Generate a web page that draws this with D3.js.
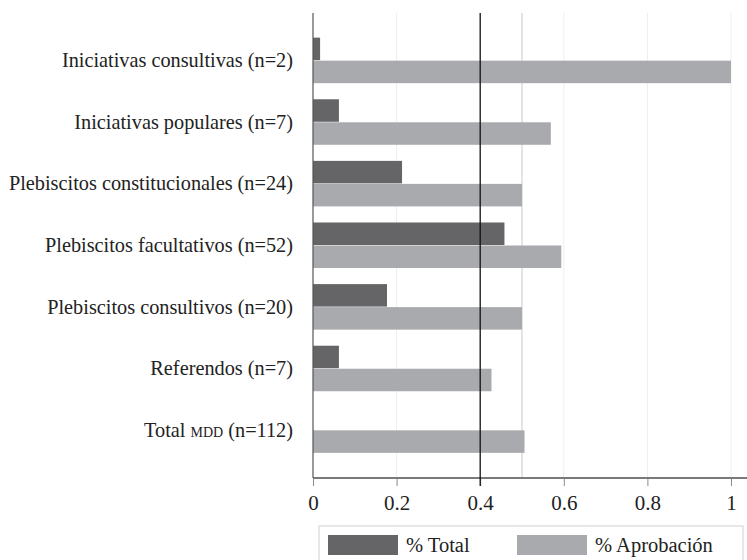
<!DOCTYPE html>
<html>
<head>
<meta charset="utf-8">
<script src="https://cdn.jsdelivr.net/npm/d3@7"></script>
<style>
  body { margin: 0; background: #fff; }
  text { font-family: "Liberation Serif", "DejaVu Serif", serif; fill: #222; }
</style>
</head>
<body>
<div id="chart"></div>
<script>
// categories, top to bottom
var categories = [
  "Iniciativas consultivas (n=2)",
  "Iniciativas populares (n=7)",
  "Plebiscitos constitucionales (n=24)",
  "Plebiscitos facultativos (n=52)",
  "Plebiscitos consultivos (n=20)",
  "Referendos (n=7)",
  "Total mdd (n=112)"
];
var pctTotal = [0.017, 0.062, 0.213, 0.458, 0.177, 0.062, null];
var pctAprob = [1.0, 0.569, 0.5, 0.594, 0.5, 0.427, 0.506];
var seriesNames = ["% Total", "% Aprobación"];
var xTicks = [0, 0.2, 0.4, 0.6, 0.8, 1];

var W = 747, H = 560;
var margin = {top: 13, right: 16, bottom: 82, left: 313};
var width = 731 - margin.left;
var height = H - margin.top - margin.bottom;

var svg = d3.select("#chart").append("svg")
  .attr("width", W)
  .attr("height", H);

var g = svg.append("g")
  .attr("transform", "translate(" + margin.left + "," + margin.top + ")");

var xScale = d3.scaleLinear()
  .domain([0, 1])
  .range([0, width]);

var yScale = d3.scaleBand()
  .domain(categories)
  .range([0, height])
  .paddingInner(0.253)
  .paddingOuter(0.4);

var ySub = d3.scaleBand()
  .domain(seriesNames)
  .range([0, yScale.bandwidth()]);

var color = d3.scaleOrdinal()
  .domain(seriesNames)
  .range(["#656567", "#a9aaae"]);

// faint gridlines
g.selectAll(".grid")
  .data(xTicks.filter(function(d) { return d != 0 && d != 0.4; }))
  .enter().append("line")
  .attr("class", "grid")
  .attr("x1", function(d) { return xScale(d); })
  .attr("x2", function(d) { return xScale(d); })
  .attr("y1", 0)
  .attr("y2", height)
  .attr("stroke", "#eeeeee")
  .attr("stroke-width", 1);

// 0.5 reference
g.append("line")
  .attr("x1", xScale(0.5)).attr("x2", xScale(0.5))
  .attr("y1", 0).attr("y2", height)
  .attr("stroke", "#d2d2d2")
  .attr("stroke-width", 1.2);

// bars
var rows = categories.map(function(c, i) {
  return {cat: c, vals: [{s: seriesNames[0], v: pctTotal[i]}, {s: seriesNames[1], v: pctAprob[i]}]};
});

var group = g.selectAll(".row")
  .data(rows)
  .enter().append("g")
  .attr("class", "row")
  .attr("transform", function(d) { return "translate(0," + yScale(d.cat) + ")"; });

group.selectAll("rect")
  .data(function(d) { return d.vals.filter(function(e) { return e.v != null; }); })
  .enter().append("rect")
  .attr("x", 0)
  .attr("y", function(d) { return ySub(d.s); })
  .attr("width", function(d) { return xScale(d.v); })
  .attr("height", ySub.bandwidth() - 0.5)
  .attr("fill", function(d) { return color(d.s); });

// x axis
var xAxis = g.append("g")
  .attr("transform", "translate(0," + height + ")")
  .call(d3.axisBottom(xScale).tickValues(xTicks).tickFormat(d3.format("")).tickSize(8).tickSizeOuter(0));
xAxis.select(".domain").remove();
xAxis.selectAll(".tick line").attr("stroke", "#8a8a8a");
xAxis.selectAll(".tick text")
  .attr("dy", "0.9em")
  .attr("y", 13)
  .style("font-size", "21px")
  .style("font-family", "'Liberation Serif', serif")
  .attr("fill", "#222");
xAxis.append("line")
  .attr("x1", 0).attr("x2", W - margin.left)
  .attr("y1", 0).attr("y2", 0)
  .attr("stroke", "#7a7a7a")
  .attr("stroke-width", 1.8);

// y axis line and labels
g.append("line")
  .attr("x1", 0).attr("x2", 0)
  .attr("y1", 0).attr("y2", height)
  .attr("stroke", "#555")
  .attr("stroke-width", 1.2);

var labels = g.selectAll(".ylab")
  .data(categories)
  .enter().append("text")
  .attr("class", "ylab")
  .attr("x", -20)
  .attr("y", function(d) { return yScale(d) + yScale.bandwidth() / 2; })
  .attr("dy", "0.32em")
  .attr("text-anchor", "end")
  .style("font-size", "20.3px");

labels.each(function(d) {
  var t = d3.select(this);
  var m = d.indexOf("mdd");
  if (m < 0) { t.text(d); return; }
  t.append("tspan").text(d.slice(0, m));
  t.append("tspan").style("font-variant", "small-caps").text("mdd");
  t.append("tspan").text(d.slice(m + 3));
});

// 0.4 line
g.append("line")
  .attr("x1", xScale(0.4)).attr("x2", xScale(0.4))
  .attr("y1", 0).attr("y2", height + 8)
  .attr("stroke", "#111")
  .attr("stroke-width", 1.3);

// legend
var legend = svg.append("g").attr("transform", "translate(319,526)");
legend.append("rect")
  .attr("x", 0).attr("y", 0)
  .attr("width", 424).attr("height", 40)
  .attr("fill", "none")
  .attr("stroke", "#cfcfcf");
var legX = [9, 198];
var item = legend.selectAll(".leg")
  .data(seriesNames)
  .enter().append("g")
  .attr("transform", function(d, i) { return "translate(" + legX[i] + ",9)"; });
item.append("rect")
  .attr("width", 70).attr("height", 20)
  .attr("fill", function(d) { return color(d); });
item.append("text")
  .attr("x", 78).attr("y", 10)
  .attr("dy", "0.35em")
  .style("font-size", "20.5px")
  .text(function(d) { return d; });
</script>
</body>
</html>
